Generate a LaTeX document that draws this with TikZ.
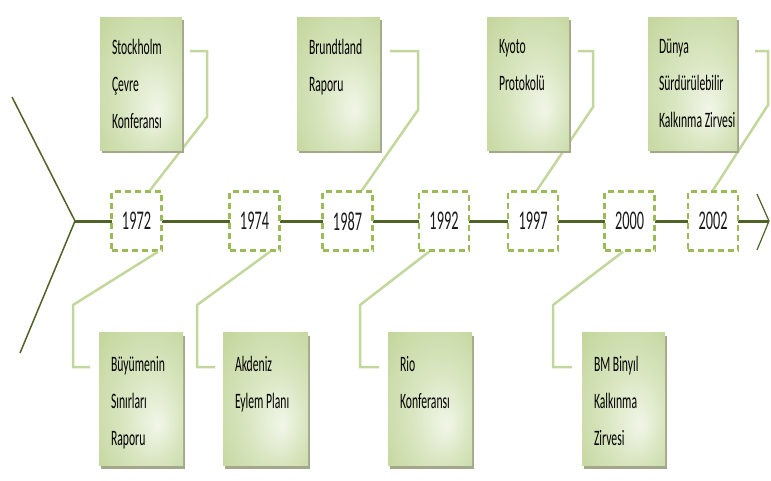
\documentclass[tikz,border=0pt]{standalone}
\usepackage{fontspec}
\usetikzlibrary{shadows}
\newfontfamily\evfont[FakeStretch=0.53]{Carlito}

\definecolor{axisgreen}{HTML}{4F6228}
\definecolor{dashgreen}{HTML}{9BBB59}
\definecolor{linkgreen}{HTML}{C3D69B}
\definecolor{evdark}{HTML}{C2D59A}
\definecolor{evmid}{HTML}{D8E5BF}
\definecolor{evlight}{HTML}{F1F6E8}
\definecolor{evshadow}{HTML}{A3A88D}
\pgfdeclareradialshading{evshade}{\pgfpoint{10bp}{-10bp}}{color(0bp)=(evlight); color(18bp)=(evmid); color(40bp)=(evdark); color(50bp)=(evdark)}

\tikzset{
  yearbox/.style={draw=dashgreen, line width=2.5pt, dash pattern=on 6pt off 4pt,
    fill=white, minimum width=50pt, minimum height=59pt, inner sep=0pt,
    text=black!90, font=\evfont\fontsize{27}{30}\selectfont},
  evbox/.style={shade, shading=evshade, minimum height=133pt, inner sep=0pt,
    drop shadow={shadow xshift=2pt, shadow yshift=-3pt, fill=evshadow, opacity=1}},
  evtext/.style={anchor=north west, align=left, inner sep=0pt, text=black,
    font=\evfont\fontsize{22}{37}\selectfont,
    execute at begin node={\rule{0pt}{17pt}}},
  link/.style={draw=linkgreen, line width=2.5pt},
}

\begin{document}
\begin{tikzpicture}[x=1pt, y=-1pt]
\useasboundingbox (0,0) rectangle (771,480);

% time axis
\coordinate (fork) at (75,221);
\coordinate (forkup) at (12,97);
\coordinate (forkdown) at (20,353);
\coordinate (tip) at (769,221);
\draw[axisgreen, line width=1.5pt] (forkup) -- (fork) -- (forkdown);
\draw[axisgreen, line width=3pt] (fork) -- (tip);
\draw[axisgreen, line width=1.2pt] (757,194) -- (tip) -- (757,250);

% connectors, upper row
\coordinate (e72) at (190,51);
\coordinate (e87) at (390,51);
\coordinate (e97) at (578,51);
\coordinate (e02) at (755,51);
% connectors, lower row
\coordinate (f72) at (90,367);
\coordinate (f74) at (215,367);
\coordinate (f92) at (379,367);
\coordinate (f00) at (572,367);

% years
\node[yearbox] (y72) at (136.5,221) {1972};
\node[yearbox] (y74) at (254.5,221) {1974};
\node[yearbox] (y87) at (347.5,221) {1987};
\node[yearbox] (y92) at (444,221) {1992};
\node[yearbox] (y97) at (533,221) {1997};
\node[yearbox] (y00) at (629.5,221) {2000};
\node[yearbox] (y02) at (713,221) {2002};

\draw[link] ([xshift=13.5pt]y72.north) -- (207,117) |- (e72);
\draw[link] ([xshift=14.5pt]y87.north) -- (418,110) |- (e87);
\draw[link] ([xshift=4pt]y97.north) -- (593,107) |- (e97);
\draw[link] (y02.north) -- (768,105) |- (e02);
\draw[link] ([xshift=21.5pt]y72.south) -- (73,305) |- (f72);
\draw[link] ([xshift=15.5pt]y74.south) -- (197,305) |- (f74);
\draw[link] ([xshift=-15pt]y92.south) -- (360,305) |- (f92);
\draw[link] ([xshift=-6.5pt]y00.south) -- (553,305) |- (f00);

% events, upper row
\node[evbox, minimum width=82pt] (stk) at (141,83.5) {};
\node[evtext] (stktxt) at ([shift={(12,22)}]stk.north west) {Stockholm\\Çevre\\Konferansı};
\node[evbox, minimum width=83pt] (brd) at (338.5,83.5) {};
\node[evtext] (brdtxt) at ([shift={(12,22)}]brd.north west) {Brundtland\\Raporu};
\node[evbox, minimum width=82pt] (kyo) at (528,83.5) {};
\node[evtext] (kyotxt) at ([shift={(12,22)}]kyo.north west) {Kyoto\\Protokolü};
\node[evbox, minimum width=89pt] (wss) at (692.5,83.5) {};
\node[evtext] (wsstxt) at ([shift={(11,22)}]wss.north west) {Dünya\\Sürdürülebilir\\Kalkınma Zirvesi};

% events, lower row
\node[evbox, minimum width=84pt] (lim) at (141,399) {};
\node[evtext] (limtxt) at ([shift={(12,24)}]lim.north west) {Büyümenin\\Sınırları\\Raporu};
\node[evbox, minimum width=85pt] (med) at (265.5,399) {};
\node[evtext] (medtxt) at ([shift={(12,24)}]med.north west) {Akdeniz\\Eylem Planı};
\node[evbox, minimum width=84pt] (rio) at (430,399) {};
\node[evtext] (riotxt) at ([shift={(12,24)}]rio.north west) {Rio\\Konferansı};
\node[evbox, minimum width=83pt] (mdg) at (623.5,399) {};
\node[evtext] (mdgtxt) at ([shift={(12,24)}]mdg.north west) {BM Binyıl\\Kalkınma\\Zirvesi};
\end{tikzpicture}
\end{document}
